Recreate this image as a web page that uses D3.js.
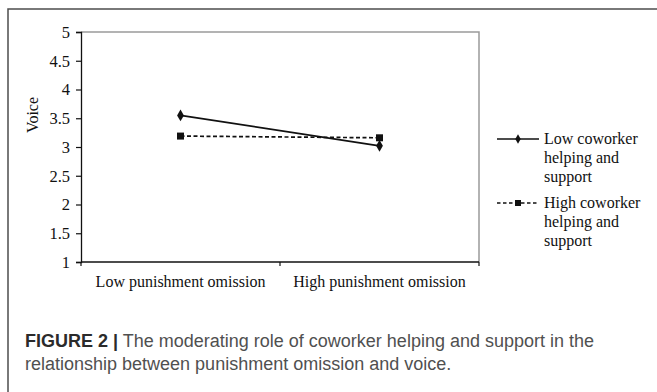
<!DOCTYPE html>
<html>
<head>
<meta charset="utf-8">
<script src="https://cdn.jsdelivr.net/npm/d3@7"></script>
<style>
  html, body { margin: 0; padding: 0; background: #fff; }
  svg { display: block; }
</style>
</head>
<body>
<svg id="chart" width="657" height="392"></svg>
<script>
// ---- data ----
const categories = ["Low punishment omission", "High punishment omission"];
const seriesNames = ["Low coworker helping and support", "High coworker helping and support"];
const lowCoworker = [3.55, 3.02];
const highCoworker = [3.19, 3.16];
const yTicks = [1, 1.5, 2, 2.5, 3, 3.5, 4, 4.5, 5];
const yTickLabels = ["1", "1.5", "2", "2.5", "3", "3.5", "4", "4.5", "5"];
const legendLines = [["Low coworker", "helping and", "support"], ["High coworker", "helping and", "support"]];
const yTitle = "Voice";
const captionBold = "FIGURE 2 |";
const captionLine1 = "The moderating role of coworker helping and support in the";
const captionLine2 = "relationship between punishment omission and voice.";

const svg = d3.select("#chart");
const serif = "'Liberation Serif', 'Times New Roman', serif";
const sans = "'Liberation Sans', Arial, Helvetica, sans-serif";

// outer frame (extends beyond right/bottom like the cropped figure)
svg.append("rect")
  .attr("x", 8).attr("y", 9).attr("width", 700).attr("height", 450)
  .attr("fill", "none").attr("stroke", "#4d4d4d").attr("stroke-width", 1.5);

const plot = { left: 81, right: 479, top: 32, bottom: 262 };

const x = d3.scalePoint().domain(categories).range([plot.left, plot.right]).padding(0.5);
const xEdges = d3.scaleLinear().domain([0, categories.length]).range([plot.left, plot.right]);
const y = d3.scaleLinear().domain([1, 5]).range([plot.bottom, plot.top]);

// plot area border (top and right, gray)
svg.append("path")
  .attr("d", `M${plot.left},${plot.top}H${plot.right}V${plot.bottom}`)
  .attr("fill", "none").attr("stroke", "#9a9a9a").attr("stroke-width", 1.5);

// y axis
const yAxis = svg.append("g")
  .attr("transform", `translate(${plot.left},0)`)
  .call(d3.axisLeft(y).tickValues(yTicks).tickSize(5).tickPadding(6)
        .tickFormat((d, i) => yTickLabels[i]));
yAxis.select(".domain").attr("stroke", "#111").attr("stroke-width", 1.3);
yAxis.selectAll(".tick line").attr("stroke", "#111").attr("stroke-width", 1.2);
yAxis.selectAll("text").attr("font-family", serif).attr("font-size", 16.5).attr("fill", "#111");

// x axis (line with edge ticks)
const xAxisG = svg.append("g").attr("transform", `translate(0,${plot.bottom})`);
xAxisG.append("line").attr("x1", plot.left).attr("x2", plot.right)
  .attr("stroke", "#111").attr("stroke-width", 1.3);
xAxisG.selectAll(".edge").data(d3.range(categories.length + 1)).enter().append("line")
  .attr("x1", d => xEdges(d)).attr("x2", d => xEdges(d))
  .attr("y1", 0).attr("y2", 4).attr("stroke", "#111").attr("stroke-width", 1.2);
xAxisG.selectAll(".lbl").data(categories).enter().append("text")
  .attr("x", d => x(d)).attr("y", 25).attr("text-anchor", "middle")
  .attr("font-family", serif).attr("font-size", 16).attr("fill", "#111")
  .text(d => d);

// y title
svg.append("text")
  .attr("transform", `translate(38,115) rotate(-90)`)
  .attr("text-anchor", "middle")
  .attr("font-family", serif).attr("font-size", 16).attr("fill", "#111")
  .text(yTitle);

// lines
const line = d3.line().x((d, i) => x(categories[i])).y(d => y(d));
svg.append("path").datum(lowCoworker).attr("d", line)
  .attr("fill", "none").attr("stroke", "#111").attr("stroke-width", 1.7);
svg.append("path").datum(highCoworker).attr("d", line)
  .attr("fill", "none").attr("stroke", "#111").attr("stroke-width", 1.7)
  .attr("stroke-dasharray", "4,2.5");

const diamond = d3.symbol().type(d3.symbolDiamond).size(40);
svg.selectAll(".dm").data(lowCoworker).enter().append("path")
  .attr("d", diamond)
  .attr("transform", (d, i) => `translate(${x(categories[i])},${y(d)})`)
  .attr("fill", "#111");
svg.selectAll(".sq").data(highCoworker).enter().append("rect")
  .attr("x", (d, i) => x(categories[i]) - 3.5).attr("y", d => y(d) - 3.5)
  .attr("width", 7).attr("height", 7).attr("fill", "#111");

// legend
const legendY = [139, 203];
const lg = svg.append("g");
legendLines.forEach((lines, k) => {
  const yy = legendY[k];
  lg.append("line").attr("x1", 497).attr("x2", 539).attr("y1", yy).attr("y2", yy)
    .attr("stroke", "#111").attr("stroke-width", 1.4)
    .attr("stroke-dasharray", k === 1 ? "3.5,2.5" : null);
  if (k === 0) {
    lg.append("path").attr("d", d3.symbol().type(d3.symbolDiamond).size(26))
      .attr("transform", `translate(518,${yy})`).attr("fill", "#111");
  } else {
    lg.append("rect").attr("x", 515).attr("y", yy - 3).attr("width", 6).attr("height", 6).attr("fill", "#111");
  }
  lines.forEach((t, j) => {
    lg.append("text").attr("x", 544).attr("y", yy + 5 + j * 19)
      .attr("font-family", serif).attr("font-size", 16).attr("fill", "#111")
      .text(t);
  });
});

// caption
const cap = svg.append("text").attr("x", 25).attr("y", 347)
  .attr("font-family", sans).attr("font-size", 18);
cap.append("tspan").attr("font-weight", "bold").attr("fill", "#2b2b2b").text(captionBold);
cap.append("tspan").attr("fill", "#505050").text(" " + captionLine1);
svg.append("text").attr("x", 25).attr("y", 370)
  .attr("font-family", sans).attr("font-size", 18).attr("fill", "#505050")
  .text(captionLine2);
</script>
</body>
</html>
